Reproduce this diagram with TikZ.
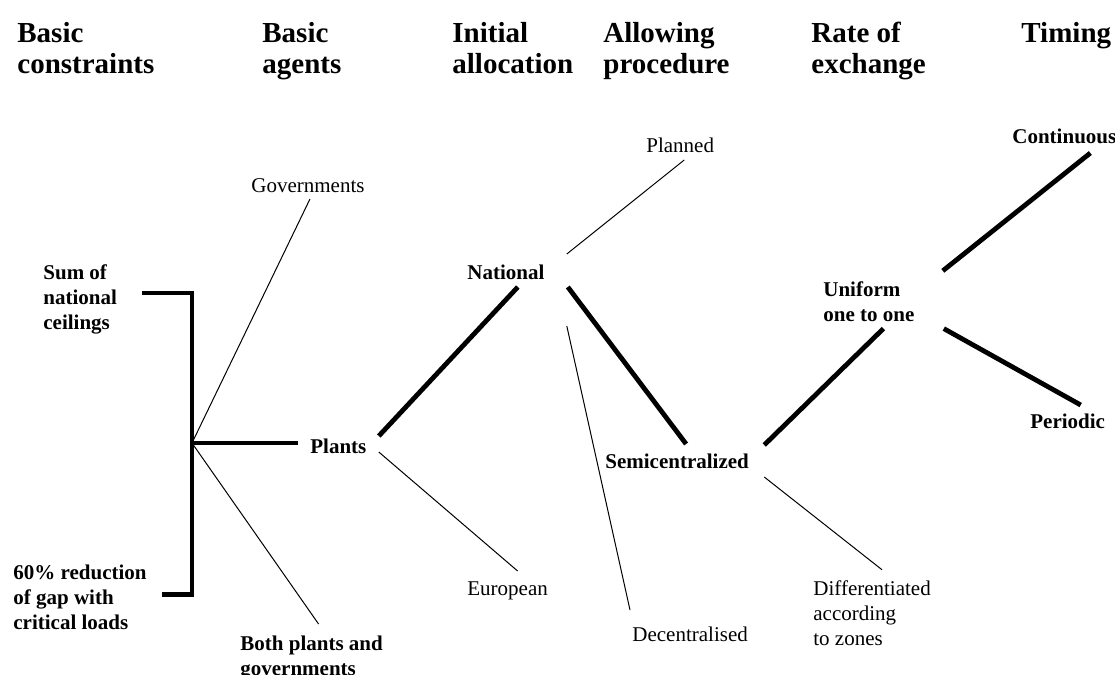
\documentclass[tikz,border=0pt]{standalone}
\usepackage{fontspec}
\setmainfont{Liberation Serif}
\usepackage{tikz}
\tikzset{
  thinline/.style={line width=0.5pt},
  thickline/.style={line width=2.4pt},
  heading/.style={anchor=base west, inner sep=0pt, align=left, font=\fontsize{14.5}{15.5}\selectfont\bfseries},
  choice/.style={anchor=base west, inner sep=0pt, align=left, font=\fontsize{10.5}{12.5}\selectfont},
  boldchoice/.style={choice, font=\fontsize{10.5}{12.5}\selectfont\bfseries}
}

\begin{document}
\begin{tikzpicture}[x=0.5pt, y=-0.5pt]
  \path[use as bounding box, fill=white] (0,0) rectangle (1115,675);

  \node[heading] (hconstr) at (17,73) {Basic\\constraints};
  \node[heading] (hagents) at (262,73) {Basic\\agents};
  \node[heading] (halloc) at (452,73) {Initial\\allocation};
  \node[heading] (hproc) at (603,73) {Allowing\\procedure};
  \node[heading] (hrate) at (811,73) {Rate of\\exchange};
  \node[heading] (htiming) at (1021,42) {Timing};

  \node[boldchoice] (sum) at (43,329) {Sum of\\national\\ceilings};
  \node[boldchoice] (gap) at (13,629) {60\% reduction\\of gap with\\critical loads};
  \node[choice] (gov) at (251,192) {Governments};
  \node[boldchoice] (plants) at (310,453) {Plants};
  \node[boldchoice] (both) at (240,675) {Both plants and\\governments};
  \node[boldchoice] (national) at (467,279) {National};
  \node[choice] (european) at (467,595) {European};
  \node[choice] (planned) at (646,152) {Planned};
  \node[boldchoice] (semi) at (605,468) {Semicentralized};
  \node[choice] (decentral) at (632,641) {Decentralised};
  \node[boldchoice] (uniform) at (823,321) {Uniform\\one to one};
  \node[choice] (differ) at (813,645) {Differentiated\\according\\to zones};
  \node[boldchoice] (cont) at (1012,143) {Continuous};
  \node[boldchoice] (periodic) at (1030,428) {Periodic};

  \coordinate (hub) at (192,443);

  \draw[thickline] ([shift={(25,-6)}]sum.east) -| (hub) |- ([shift={(15,-2)}]gap.east);
  \draw[thickline] (hub) -- ([shift={(-12,-10)}]plants.base west);
  \draw[thinline] (hub) -- ([shift={(2,7)}]gov.base);
  \draw[thinline] (hub) -- ([shift={(7,-11)}]both.north);
  \draw[thickline] ([shift={(12,-17)}]plants.base east) -- ([shift={(-27,8)}]national.base east);
  \draw[thinline] ([shift={(12,-1)}]plants.base east) -- ([shift={(10,-24)}]european.base);
  \draw[thinline] ([shift={(22,-25)}]national.base east) -- ([shift={(4,8)}]planned.base);
  \draw[thickline] ([shift={(23,8)}]national.base east) -- ([shift={(9,-24)}]semi.base);
  \draw[thinline] ([shift={(22,47)}]national.base east) -- ([shift={(-2,-31)}]decentral.base west);
  \draw[thickline] ([shift={(15,-23)}]semi.base east) -- ([shift={(14.5,7)}]uniform.south);
  \draw[thinline] ([shift={(15,9)}]semi.base east) -- ([shift={(10,-10)}]differ.north);
  \draw[thickline] ([shift={(28,-10)}]uniform.north east) -- ([shift={(26,10)}]cont.base);
  \draw[thickline] ([shift={(29,7)}]uniform.south east) -- ([shift={(13,-23)}]periodic.base);
\end{tikzpicture}
\end{document}
